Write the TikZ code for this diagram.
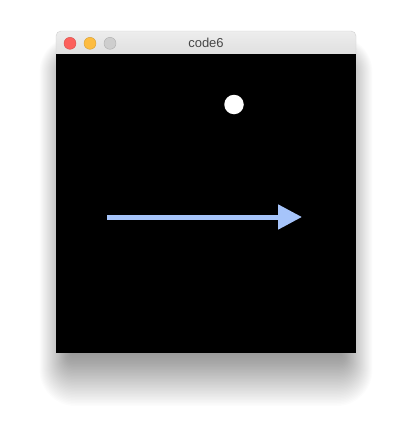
\documentclass[tikz,border=0pt]{standalone}
\usepackage{fontspec}
\setmainfont{Liberation Sans}
\usetikzlibrary{arrows.meta, positioning}

\definecolor{closered}{RGB}{252,96,92}
\definecolor{minyellow}{RGB}{253,188,64}
\definecolor{zoomgrey}{RGB}{206,206,206}
\definecolor{arrowblue}{RGB}{166,196,250}

\begin{document}
\begin{tikzpicture}[x=1pt, y=-1pt,
    light/.style={circle, inner sep=0pt, minimum size=12pt, fill=#1, draw=#1!85!black, line width=0.4pt},
    ball/.style={circle, inner sep=0pt, minimum size=19.5pt, fill=white},
    vector/.style={draw=arrowblue, line width=5pt, -{Triangle[length=24pt, width=24pt]}}]
  \useasboundingbox[fill=white] (0,0) rectangle (412,434);
  % soft shadow under the window
  \foreach \s in {0,1,...,36}
    \fill[black, opacity=0.012, rounded corners=\s pt] (72-0.9*\s,72-\s) rectangle (340+0.9*\s,352+1.5*\s);
  % window
  \shade[top color=black!7, bottom color=black!16, draw=black!18, rounded corners=5pt]
    (56,31) rectangle (356,70);
  \fill[black] (56,54) rectangle (356,353);
  \node[light=closered] (close) at (70,43.3) {};
  \node[light=minyellow] (minimize) at (90,43.3) {};
  \node[light=zoomgrey] (zoom) at (110,43.3) {};
  \node[text=black!72, font=\fontsize{13}{13}\selectfont] (title) at (206,43.3) {code6};
  % sketch
  \node[ball] (ball) at (234,104.5) {};
  \coordinate (tail) at (107,217);
  \coordinate (tip) at (302,217);
  \draw[vector] (tail) -- (tip);
\end{tikzpicture}
\end{document}
